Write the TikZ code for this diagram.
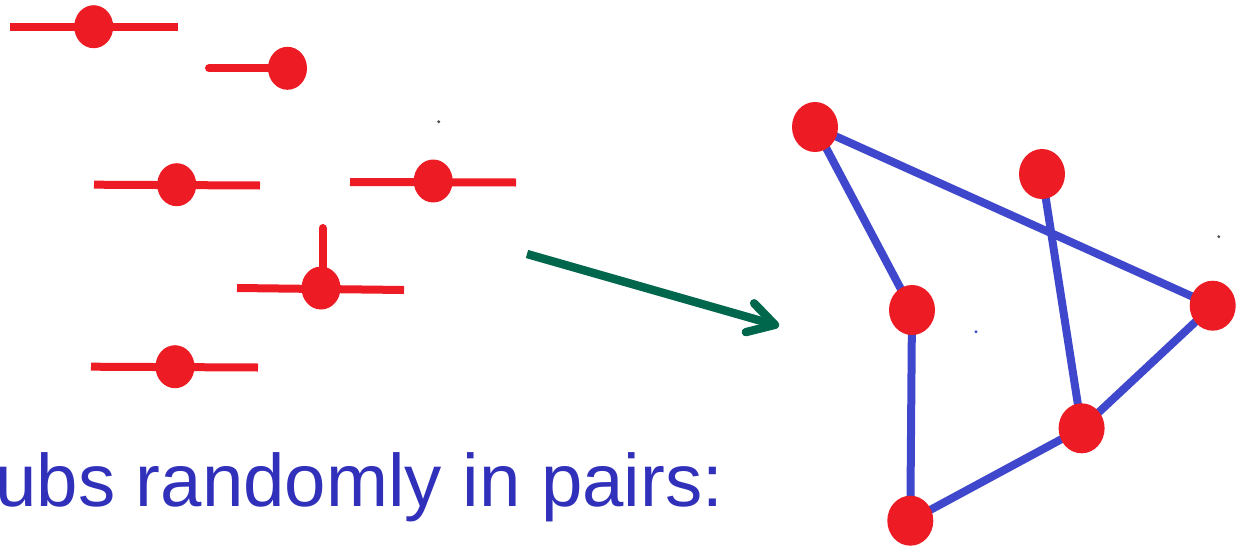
\documentclass[tikz,border=0pt]{standalone}
\usepackage{fontspec}
\setmainfont{Liberation Sans}
\usepackage{tikz}
\usetikzlibrary{shapes.geometric, arrows.meta, backgrounds}
\usepackage{xcolor}
\definecolor{stubred}{HTML}{ED1C24}
\definecolor{edgeblue}{HTML}{3F48CC}
\definecolor{arrowgreen}{HTML}{00664C}
\definecolor{textblue}{HTML}{3030BB}

\begin{document}
\begin{tikzpicture}[x=0.5pt, y=-0.5pt,
    stubdot/.style={ellipse, fill=stubred, inner sep=0pt, minimum width=19.5pt, minimum height=21.5pt},
    stubline/.style={stubred, line width=4pt},
    vertex/.style={ellipse, fill=stubred, inner sep=0pt, minimum width=23pt, minimum height=25pt},
    edge/.style={edgeblue, line width=4pt}]
    \useasboundingbox (0,0) rectangle (1236,546);

    % Stubs (half-edges)
    \draw[stubline] (10,26.7) -- (178,26.7);
    \draw[stubline, line cap=round] (209,68.3) -- (280,68.3);
    \draw[stubline] (94,184.7) -- (260,185.5);
    \draw[stubline] (350,182) -- (516,182.5);
    \draw[stubline] (237,288) -- (404,290);
    \draw[stubline, line cap=round] (322.5,228) -- (322.5,280);
    \draw[stubline] (91,366.7) -- (258,367.5);
    \node[stubdot] (s1) at (93.7,26.7) {};
    \node[stubdot] (s2) at (287.5,68.3) {};
    \node[stubdot] (s3) at (176.7,184.7) {};
    \node[stubdot] (s4) at (433.2,181) {};
    \node[stubdot] (s5) at (321,288) {};
    \node[stubdot] (s6) at (175,366.7) {};

    % Arrow
    \coordinate (arrstart) at (527,254);
    \coordinate (arrend) at (779,326);
    \draw[-{Straight Barb[length=13pt, width=15pt, line cap=round, line join=round]}, arrowgreen, line width=4.2pt] (arrstart) -- (arrend);

    % Random graph
    \node[vertex] (v1) at (815,127) {};
    \node[vertex] (v2) at (1042,174) {};
    \node[vertex] (v3) at (912,310) {};
    \node[vertex] (v4) at (1212.7,305.7) {};
    \node[vertex] (v5) at (1081.6,428.3) {};
    \node[vertex] (v6) at (910.3,520.7) {};
    \begin{scope}[on background layer]
        \draw[edge] (v1.center) -- (v3.center);
        \draw[edge] (v1.center) -- (v4.center);
        \draw[edge] (v2.center) -- (v5.center);
        \draw[edge] (v3.center) -- (v6.center);
        \draw[edge] (v6.center) -- (v5.center);
        \draw[edge] (v5.center) -- (v4.center);
    \end{scope}

    % specks
    \fill[black!70] (438.7,121.7) circle (0.8pt);
    \fill[black!70] (1218.8,236.7) circle (0.8pt);
    \fill[edgeblue] (976,331.7) circle (0.8pt);

    \node[anchor=base west, inner sep=0pt, text=textblue, font=\fontsize{37.2}{45}\selectfont] (caption) at (-5,506) {ubs randomly in pairs:};
\end{tikzpicture}
\end{document}
